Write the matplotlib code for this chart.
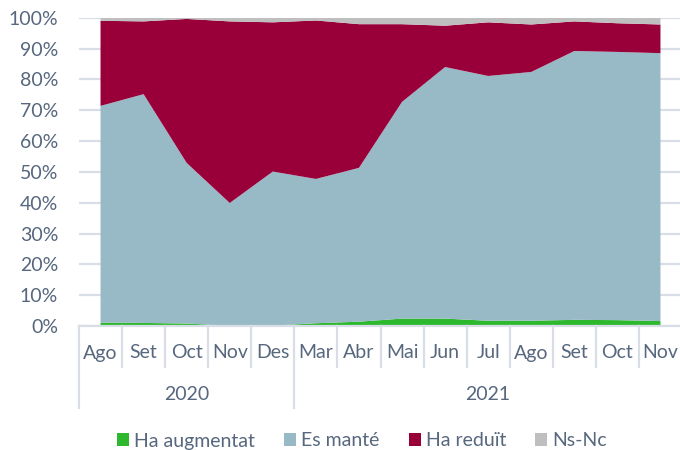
import matplotlib
matplotlib.use('Agg')
import matplotlib.pyplot as plt
from matplotlib.lines import Line2D
from matplotlib.patches import Patch
import numpy as np

plt.rcParams['font.family'] = ['Lato', 'DejaVu Sans']

months = ['Ago', 'Set', 'Oct', 'Nov', 'Des', 'Mar', 'Abr', 'Mai', 'Jun',
          'Jul', 'Ago', 'Set', 'Oct', 'Nov']
years = ['2020', '2021']
year_len = [5, 9]

# percentages per month
augmentat = [1.1, 1.0, 0.8, 0.1, 0.1, 0.9, 1.4, 2.4, 2.4, 1.7, 1.7, 2.0, 1.9, 1.6]
mante = [70.3, 74.2, 52.1, 39.8, 50.0, 46.8, 49.9, 70.3, 81.6, 79.4, 80.7, 87.2, 87.0, 86.9]
reduit = [27.6, 23.6, 46.7, 58.9, 48.4, 51.4, 46.6, 25.2, 13.4, 17.4, 15.4, 9.6, 9.3, 9.3]
nsnc = [1.0, 1.2, 0.4, 1.2, 1.5, 0.9, 2.1, 2.1, 2.6, 1.5, 2.2, 1.2, 1.8, 2.2]

labels = ['Ha augmentat', 'Es manté', 'Ha reduït', 'Ns-Nc']
colors = ['#2EB82E', '#97BAC6', '#990039', '#BFBFBF']
txt = '#56677E'
grid = '#D9DDE6'
fs = 14

fig = plt.figure(figsize=(6.8, 4.5), dpi=100)
ax = fig.add_axes([79 / 680, 124 / 450, 603 / 680, 308.3 / 450])

x = np.arange(len(months))
ax.stackplot(x, augmentat, mante, reduit, nsnc, colors=colors,
             linewidth=0, zorder=2)

ax.set_xlim(-0.5, len(months) - 0.5)
ax.set_ylim(0, 100)
ax.set_yticks(np.arange(0, 101, 10))
ax.set_yticklabels([f'{v}%' for v in range(0, 101, 10)])
ax.yaxis.grid(True, color=grid, linewidth=1.6, zorder=0)
ax.set_axisbelow(True)
ax.tick_params(axis='y', length=0, pad=15, labelsize=fs, labelcolor=txt)
ax.set_xticks([])
for s in ['top', 'right', 'left']:
    ax.spines[s].set_visible(False)
ax.spines['bottom'].set_color(grid)
ax.spines['bottom'].set_linewidth(1.6)

# two-level category axis: months, then years
tr = ax.get_xaxis_transform()
ax_h = 308.3
for i, m in enumerate(months):
    ax.text(i, -27 / ax_h, m, transform=tr, ha='center', va='center',
            fontsize=fs, color=txt)

start = -0.5
ax.add_line(Line2D([start, start], [0, -82 / ax_h], transform=tr,
                   color=grid, lw=1.6, clip_on=False))
for y, n in zip(years, year_len):
    for k in range(1, n):
        xs = start + k
        ax.add_line(Line2D([xs, xs], [0, -41 / ax_h], transform=tr,
                           color=grid, lw=1.6, clip_on=False))
    end = start + n
    ax.add_line(Line2D([end, end], [0, -82 / ax_h], transform=tr,
                       color=grid, lw=1.6, clip_on=False))
    ax.text((start + end) / 2, -68 / ax_h, y, transform=tr, ha='center',
            va='center', fontsize=fs, color=txt)
    start = end

handles = [Patch(facecolor=c, edgecolor='none') for c in colors]
fig.legend(handles, labels, loc='center', bbox_to_anchor=(362 / 680, 1 - 441 / 450),
           ncol=4, frameon=False, fontsize=fs, labelcolor=txt,
           handlelength=0.62, handleheight=0.62, handletextpad=0.25,
           columnspacing=1.5)

fig.savefig('out.png', dpi=100)
